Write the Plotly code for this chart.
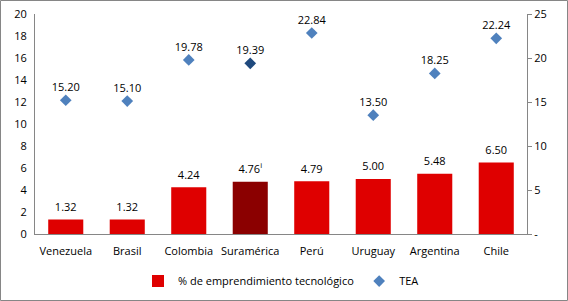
import plotly.graph_objects as go

categories = ["Venezuela", "Brasil", "Colombia", "Suramérica", "Perú", "Uruguay", "Argentina", "Chile"]
tech_pct = [1.32, 1.32, 4.24, 4.76, 4.79, 5.00, 5.48, 6.50]
tea = [15.20, 15.10, 19.78, 19.39, 22.84, 13.50, 18.25, 22.24]
tech_labels = ["1.32", "1.32", "4.24", "4.76<sup>i</sup>", "4.79", "5.00", "5.48", "6.50"]
tea_labels = ["15.20", "15.10", "19.78", "19.39", "22.84", "13.50", "18.25", "22.24"]
left_ticks = [0, 2, 4, 6, 8, 10, 12, 14, 16, 18, 20]
right_tickvals = [0, 5, 10, 15, 20, 25]
right_ticktext = ["-", "5", "10", "15", "20", "25"]

bar_colors = ["#8B0000" if c == "Suramérica" else "#DF0000" for c in categories]
marker_colors = ["#1F497D" if c == "Suramérica" else "#4F81BD" for c in categories]

FONT = "Open Sans"
fig = go.Figure()
fig.add_trace(go.Bar(
    x=categories, y=tech_pct, name="% de emprendimiento tecnológico",
    marker=dict(color=bar_colors, line=dict(width=0)),
    yaxis="y",
))
# bar value labels (invisible markers give a gap above the bar tops)
fig.add_trace(go.Scatter(
    x=categories, y=tech_pct, mode="markers+text", showlegend=False, hoverinfo="skip",
    marker=dict(size=8, opacity=0),
    text=tech_labels, textposition="top center", cliponaxis=False,
    textfont=dict(size=11, color="#000000", family=FONT),
    yaxis="y",
))
fig.add_trace(go.Scatter(
    x=categories, y=tea, name="TEA", mode="markers+text",
    marker=dict(symbol="diamond", size=9, color=marker_colors),
    text=tea_labels, textposition="top center", cliponaxis=False,
    textfont=dict(size=11, color="#000000", family=FONT),
    yaxis="y2",
))

fig.update_layout(
    width=568, height=301,
    margin=dict(l=35, r=41, t=14, b=67, autoexpand=False),
    paper_bgcolor="white", plot_bgcolor="white",
    font=dict(family=FONT, size=11, color="#000000"),
    bargap=0.43,
    showlegend=True,
    legend=dict(orientation="h", x=0.5, xanchor="center", y=-0.214, yanchor="middle",
                font=dict(size=11, family=FONT), traceorder="normal"),
    xaxis=dict(showline=True, linecolor="#868686", linewidth=1, ticks="", automargin=False,
               showgrid=False, tickfont=dict(size=11), ticklabelstandoff=7),
    yaxis=dict(range=[0, 20], tickvals=left_ticks, showline=True, linecolor="#868686",
               linewidth=1, showgrid=False, zeroline=False, ticks="", automargin=False,
               tickfont=dict(size=11), ticklabelstandoff=5),
    yaxis2=dict(range=[0, 25], tickvals=right_tickvals, ticktext=right_ticktext,
                overlaying="y", side="right", showline=True, linecolor="#868686",
                linewidth=1, showgrid=False, zeroline=False, ticks="outside", automargin=False,
                ticklen=4, tickcolor="#868686", tickfont=dict(size=11)),
    shapes=[dict(type="rect", xref="paper", yref="paper",
                 x0=-34.5/492, x1=532.5/492, y0=-66.5/220, y1=1 + 13.5/220,
                 line=dict(color="#868686", width=1), fillcolor="rgba(0,0,0,0)")],
)

fig.write_html("out.html", config={"displayModeBar": False},
               post_script="document.body.style.margin='0';")
